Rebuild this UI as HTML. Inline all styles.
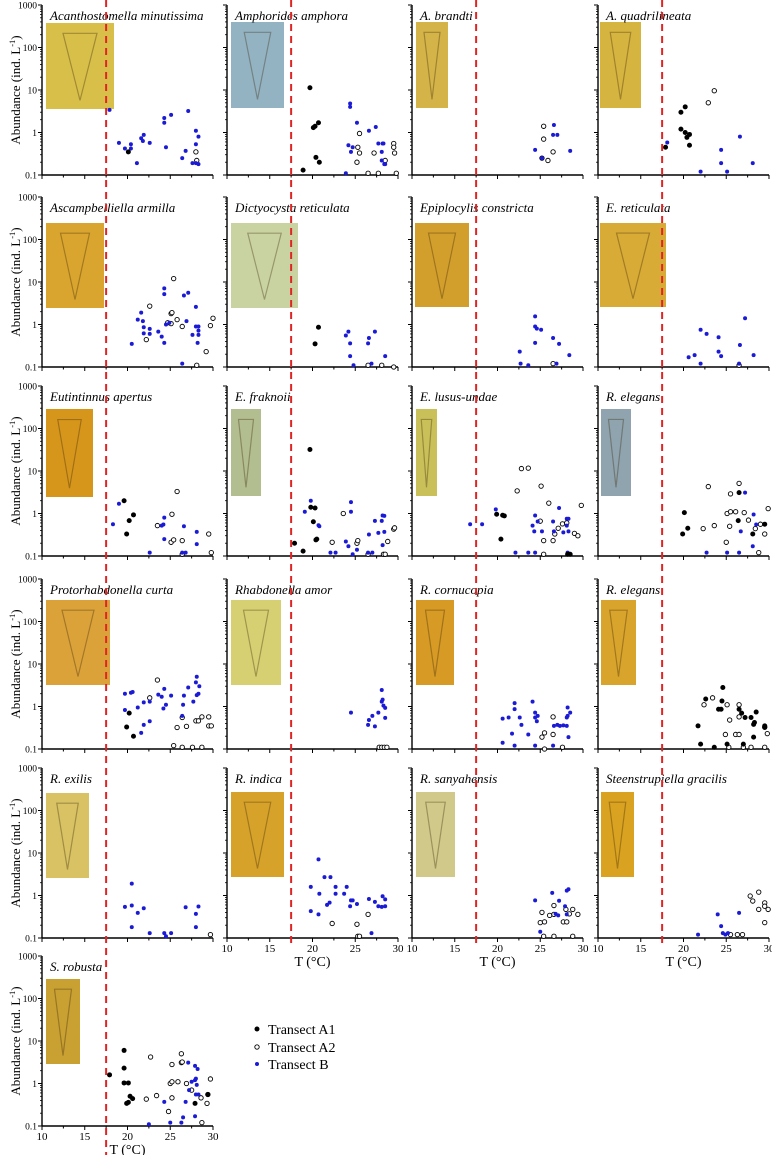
<!DOCTYPE html>
<html><head><meta charset="utf-8">
<style>
html,body{margin:0;padding:0;background:#fff;}
svg{display:block;font-family:"Liberation Serif",serif;}
</style></head>
<body>
<svg id="fig" width="772" height="1155" viewBox="0 0 772 1155" xmlns="http://www.w3.org/2000/svg"></svg>
<script>
// ---- data: [temperature °C, abundance ind. L^-1] per panel & transect ----
const p1A1=[[20.1,0.35]];
const p1A2=[[28.0,0.35],[28.1,0.22]];
const p1B=[[17.9,3.4],[19.0,0.57],[19.7,0.42],[20.4,0.53],[20.4,0.42],[21.1,0.19],[21.6,0.73],[21.9,0.88],[21.8,0.63],[22.6,0.57],[24.3,2.2],[24.3,1.7],[25.1,2.6],[24.5,0.45],[26.4,0.25],[26.8,0.37],[27.1,3.2],[27.6,0.19],[28.0,1.1],[28.0,0.53],[28.3,0.8],[28.0,0.19],[28.3,0.18]];
const p2A1=[[19.7,11.3],[20.1,1.3],[20.3,1.4],[20.7,1.7],[20.4,0.26],[20.8,0.2],[18.9,0.13]];
const p2A2=[[25.5,0.95],[25.3,0.45],[25.5,0.33],[25.2,0.2],[26.5,0.11],[27.2,0.33],[27.7,0.11],[28.5,0.22],[29.5,0.55],[29.5,0.45],[29.6,0.33],[29.8,0.11]];
const p2B=[[23.9,0.11],[24.4,4.8],[24.4,4.0],[24.2,0.5],[24.5,0.35],[24.7,0.45],[25.2,1.7],[26.6,1.1],[27.4,1.35],[27.7,0.55],[28.1,0.35],[28.2,0.55],[28.3,0.55],[28.1,0.22],[28.4,0.18],[28.5,0.18]];
const p3A1=[];
const p3A2=[[25.4,1.4],[25.4,0.7],[25.2,0.25],[25.9,0.22],[26.5,0.35]];
const p3B=[[24.4,0.39],[26.5,0.88],[26.6,1.5],[27.0,0.88],[28.5,0.37],[25.2,0.25]];
const p4A1=[[17.9,0.45],[19.7,3.0],[20.2,4.0],[19.7,1.2],[20.2,1.0],[20.4,0.77],[20.7,0.9],[20.7,0.5]];
const p4A2=[[22.9,5.0],[23.6,9.6]];
const p4B=[[18.1,0.58],[22.0,0.12],[24.4,0.39],[24.4,0.19],[25.1,0.12],[26.6,0.8],[28.1,0.19]];
const p5A1=[];
const p5A2=[[22.2,0.44],[22.6,2.7],[24.7,1.1],[25.1,1.8],[25.2,1.9],[25.4,12],[25.8,1.3],[26.4,0.9],[28.1,0.11],[29.2,0.23],[29.7,0.94],[30.0,1.4],[25.1,1.05]];
const p5B=[[20.5,0.35],[21.2,1.3],[21.6,1.9],[21.8,1.2],[21.9,0.86],[21.9,0.62],[22.6,0.79],[22.6,0.6],[23.6,0.68],[24.0,0.52],[24.3,0.37],[24.3,7.1],[24.3,5.2],[24.5,1.0],[24.9,1.1],[26.4,0.12],[26.6,4.8],[27.1,5.6],[26.9,1.2],[28.0,2.6],[28.0,0.9],[28.3,0.9],[28.3,0.72],[28.3,0.57],[28.2,0.37],[27.6,0.57]];
const p6A1=[[20.3,0.35],[20.7,0.86]];
const p6A2=[[26.5,0.11],[28.1,0.11],[29.5,0.1]];
const p6B=[[23.9,0.55],[24.2,0.68],[24.4,0.36],[24.4,0.18],[24.8,0.11],[26.5,0.36],[26.6,0.48],[27.3,0.68],[26.9,0.12],[28.5,0.18]];
const p7A1=[];
const p7A2=[[26.5,0.12]];
const p7B=[[22.6,0.23],[22.7,0.12],[23.6,0.11],[24.4,1.55],[24.4,0.9],[24.6,0.8],[25.1,0.75],[24.4,0.37],[26.5,0.48],[27.2,0.35],[26.9,0.12],[28.4,0.19]];
const p8A1=[];
const p8A2=[[26.5,0.11]];
const p8B=[[20.6,0.17],[21.3,0.19],[22.0,0.12],[22.0,0.75],[22.7,0.6],[24.1,0.23],[24.1,0.5],[24.4,0.18],[26.5,0.12],[26.6,0.33],[27.2,1.4],[28.2,0.19]];
const p9A1=[[19.6,2.0],[19.9,0.33],[20.2,0.68],[20.7,0.93]];
const p9A2=[[23.5,0.52],[25.1,0.21],[25.4,0.24],[25.2,0.96],[25.8,3.3],[26.4,0.23],[26.4,0.11],[29.5,0.33],[29.8,0.12]];
const p9B=[[18.3,0.56],[19.0,1.7],[22.6,0.12],[24.3,0.8],[24.2,0.55],[24.0,0.52],[24.3,0.25],[26.4,0.12],[26.8,0.12],[26.6,0.5],[28.1,0.19],[28.1,0.37]];
const p10A1=[[17.9,0.2],[18.9,0.13],[19.7,32],[19.8,1.4],[20.3,1.35],[20.1,0.64],[20.4,0.24],[20.5,0.25]];
const p10A2=[[22.3,0.21],[23.6,1.0],[25.2,0.2],[25.3,0.23],[26.5,0.11],[28.3,0.11],[28.5,0.11],[28.8,0.22],[29.5,0.43],[29.6,0.46]];
const p10B=[[19.1,1.1],[19.8,2.0],[20.7,0.53],[20.8,0.5],[22.1,0.12],[22.7,0.12],[23.9,0.22],[24.2,0.17],[24.5,1.85],[24.5,1.1],[24.7,0.11],[25.2,0.14],[26.6,0.32],[26.5,0.12],[27.0,0.12],[27.3,0.67],[27.7,0.35],[28.1,0.67],[28.2,0.9],[28.4,0.88],[28.2,0.18],[28.4,0.37]];
const p11A1=[[19.9,0.96],[20.6,0.91],[20.8,0.88],[20.4,0.25],[28.2,0.11],[28.5,0.11]];
const p11A2=[[22.3,3.4],[22.8,11.4],[23.6,11.7],[25.1,4.4],[25.0,0.66],[25.4,0.11],[25.4,0.23],[26.0,1.75],[26.5,0.23],[26.7,0.33],[27.1,0.45],[27.6,0.57],[29.0,0.34],[29.4,0.3],[29.8,1.55],[28.1,0.6]];
const p11B=[[16.8,0.56],[18.2,0.56],[19.8,1.25],[22.1,0.12],[23.6,0.12],[24.1,0.52],[24.4,0.9],[24.7,0.65],[24.3,0.38],[25.2,0.38],[24.4,0.12],[26.5,0.65],[26.6,0.38],[27.2,1.35],[28.1,0.52],[28.1,0.75],[28.3,0.75],[28.3,0.38],[27.7,0.36],[28.2,0.12]];
const p12A1=[[20.1,1.05],[19.9,0.33],[20.5,0.45],[26.4,0.68],[26.5,3.1],[28.1,0.33],[29.5,0.56]];
const p12A2=[[22.3,0.44],[22.9,4.3],[23.6,0.52],[25.0,0.21],[25.1,1.0],[25.5,2.9],[25.4,0.5],[25.5,1.1],[26.1,1.1],[26.5,5.1],[27.1,1.05],[27.6,0.7],[28.4,0.44],[28.8,0.12],[29.0,0.56],[29.5,0.33],[29.9,1.3]];
const p12B=[[22.7,0.12],[25.1,0.12],[26.5,0.12],[27.2,3.1],[26.7,0.38],[28.2,0.95],[28.5,0.55],[28.1,0.17]];
const p13A1=[[20.2,0.7],[19.9,0.33],[20.7,0.2]];
const p13A2=[[22.6,1.6],[23.5,4.2],[25.4,0.12],[25.8,0.32],[26.4,0.55],[26.4,0.11],[26.9,0.34],[27.6,0.11],[28.0,0.46],[28.3,0.46],[28.7,0.57],[28.7,0.11],[29.5,0.57],[29.5,0.35],[29.8,0.35]];
const p13B=[[19.7,2.0],[19.7,0.83],[20.4,2.1],[20.6,2.2],[21.2,0.95],[21.6,0.24],[21.9,1.25],[21.9,0.37],[22.6,0.45],[22.6,1.3],[23.6,1.9],[24.0,1.7],[24.3,2.6],[24.2,0.9],[24.5,1.1],[25.1,1.8],[26.5,1.1],[26.6,1.8],[27.1,2.8],[27.7,1.3],[28.0,3.7],[28.1,5.0],[28.1,1.85],[28.3,2.0],[28.4,3.0],[26.4,0.6]];
const p14A1=[];
const p14A2=[[27.8,0.11],[28.1,0.11],[28.4,0.11],[28.7,0.11]];
const p14B=[[24.5,0.72],[26.5,0.37],[26.6,0.48],[27.0,0.6],[27.3,0.34],[27.7,0.72],[28.1,2.45],[28.1,1.3],[28.2,1.45],[28.3,1.05],[28.5,0.93],[28.5,0.54]];
const p15A1=[];
const p15A2=[[25.2,0.19],[25.5,0.24],[25.5,0.1],[26.5,0.57],[26.5,0.22],[27.6,0.11]];
const p15B=[[20.6,0.52],[20.6,0.14],[21.3,0.55],[21.7,0.23],[22.0,1.2],[22.0,0.87],[22.0,0.12],[22.6,0.55],[22.8,0.37],[23.6,0.22],[24.1,1.3],[24.4,0.72],[24.4,0.55],[24.6,0.45],[24.7,0.6],[24.4,0.12],[26.5,0.12],[26.6,0.35],[27.0,0.37],[27.3,0.35],[27.7,0.36],[28.1,0.35],[28.1,0.55],[28.2,0.95],[28.5,0.72],[28.3,0.19],[28.2,0.6]];
const p16A1=[[21.7,0.35],[22.0,0.13],[22.6,1.5],[23.6,0.11],[24.1,0.86],[24.4,0.86],[24.5,1.35],[24.6,2.8],[25.1,0.13],[26.5,0.86],[26.8,0.7],[27.0,0.13],[27.2,0.55],[27.9,0.55],[28.2,0.38],[28.3,0.42],[28.5,0.74],[28.2,0.19],[29.5,0.35],[29.5,0.32]];
const p16A2=[[22.4,1.1],[23.4,1.6],[24.9,0.22],[25.1,1.1],[25.4,0.48],[25.3,0.11],[26.1,0.22],[26.5,0.22],[26.5,1.1],[26.5,0.57],[27.0,0.11],[27.9,0.11],[29.5,0.11],[29.8,0.23],[29.5,0.33]];
const p16B=[];
const p17A1=[];
const p17A2=[[29.7,0.12]];
const p17B=[[19.7,0.54],[20.5,1.9],[20.5,0.58],[20.5,0.18],[21.2,0.39],[21.9,0.5],[22.6,0.13],[24.3,0.13],[24.5,0.11],[25.1,0.13],[26.8,0.53],[28.0,0.37],[28.0,0.18],[28.3,0.55]];
const p18A1=[];
const p18A2=[[22.3,0.22],[25.2,0.21],[25.3,0.11],[25.5,0.11],[26.5,0.36]];
const p18B=[[19.8,0.43],[19.8,1.6],[20.7,7.1],[20.7,0.36],[20.8,1.1],[21.4,2.7],[21.7,0.6],[22.0,0.68],[22.1,2.7],[22.7,1.6],[22.7,1.1],[23.7,1.1],[24.0,1.6],[24.4,0.56],[24.5,0.77],[24.7,0.77],[25.2,0.63],[26.6,0.83],[27.3,0.71],[27.7,0.56],[28.1,0.54],[28.2,0.96],[28.5,0.81],[28.5,0.56],[26.9,0.13]];
const p19A1=[];
const p19A2=[[25.0,0.23],[25.2,0.4],[25.5,0.24],[25.4,0.11],[26.1,0.34],[26.6,0.58],[26.6,0.36],[26.6,0.11],[27.7,0.24],[28.1,0.24],[28.0,0.47],[28.4,0.37],[28.8,0.47],[29.4,0.36],[28.8,0.11]];
const p19B=[[24.4,0.77],[25.0,0.14],[26.4,1.15],[27.2,0.75],[27.9,0.56],[28.1,1.3],[28.3,1.4],[28.1,0.36],[26.8,0.37],[27.1,0.34]];
const p20A1=[];
const p20A2=[[25.5,0.12],[26.3,0.12],[26.9,0.12],[27.8,0.97],[28.1,0.74],[28.8,1.2],[28.8,0.47],[29.5,0.67],[29.5,0.56],[29.9,0.47],[29.5,0.23]];
const p20B=[[21.7,0.12],[24.0,0.36],[24.4,0.19],[24.6,0.13],[24.9,0.12],[25.2,0.13],[26.5,0.39]];
const p21A1=[[17.9,1.6],[19.6,6.0],[19.6,2.3],[19.6,1.03],[20.1,1.03],[19.9,0.34],[20.1,0.36],[20.3,0.5],[20.6,0.44],[27.9,0.34],[29.4,0.55]];
const p21A2=[[22.2,0.43],[22.7,4.2],[23.4,0.52],[24.8,0.22],[25.0,1.0],[25.2,1.1],[25.2,2.8],[25.2,0.46],[25.9,1.1],[26.3,5.0],[26.3,3.1],[26.4,3.2],[26.9,1.0],[27.5,0.7],[28.6,0.46],[28.7,0.12],[29.3,0.34],[29.4,0.55],[29.7,1.28]];
const p21B=[[22.5,0.11],[24.3,0.37],[25.0,0.12],[26.3,0.12],[26.5,0.16],[26.8,0.37],[27.1,3.1],[27.2,0.7],[27.5,1.1],[27.9,1.2],[27.9,2.6],[27.9,0.17],[28.0,1.3],[28.1,0.93],[28.2,2.2],[28.0,0.55],[28.3,0.55]];

const seriesA1=[p1A1,p2A1,p3A1,p4A1,p5A1,p6A1,p7A1,p8A1,p9A1,p10A1,p11A1,p12A1,p13A1,p14A1,p15A1,p16A1,p17A1,p18A1,p19A1,p20A1,p21A1];
const seriesA2=[p1A2,p2A2,p3A2,p4A2,p5A2,p6A2,p7A2,p8A2,p9A2,p10A2,p11A2,p12A2,p13A2,p14A2,p15A2,p16A2,p17A2,p18A2,p19A2,p20A2,p21A2];
const seriesB=[p1B,p2B,p3B,p4B,p5B,p6B,p7B,p8B,p9B,p10B,p11B,p12B,p13B,p14B,p15B,p16B,p17B,p18B,p19B,p20B,p21B];
const titles=["Acanthostomella minutissima","Amphorides amphora","A. brandti","A. quadrilineata","Ascampbelliella armilla","Dictyocysta reticulata","Epiplocylis constricta","E. reticulata","Eutintinnus apertus","E. fraknoii","E. lusus-undae","R. elegans","Protorhabdonella curta","Rhabdonella amor","R. cornucopia","R. elegans","R. exilis","R. indica","R. sanyahensis","Steenstrupiella gracilis","S. robusta"];
const yTickValues=[1000,100,10,1,0.1];
const yTickLabels=["1000","100","10","1","0.1"];
const xTickValues=[10,15,20,25,30];
const thresholdT=17.5;

// ---- layout (not data) ----
const X0=[42,227,412,598], PW=171, PH=170;
const BOT=[175,367,556,749,938,1126];
const photos=[[46,23,68,86,"#d8bf4a"],[231,22,53,86,"#93b3c3"],[416,22,32,86,"#d4b448"],[600,22,41,86,"#d6b440"],
[46,223,58,85,"#d9a52e"],[231,223,67,85,"#c9d3a2"],[415,223,54,84,"#d39f2c"],[600,223,66,84,"#d8aa36"],
[46,409,47,88,"#d6961c"],[231,409,30,87,"#b2bd90"],[416,409,21,87,"#c9c05a"],[601,409,30,87,"#8fa4ae"],
[46,600,64,85,"#dba23a"],[231,600,50,85,"#d6d072"],[416,600,38,85,"#d69a25"],[601,600,35,85,"#d9a42c"],
[46,793,43,85,"#d8c264"],[231,792,53,85,"#d6a22a"],[416,792,39,85,"#d0c98a"],[601,792,33,85,"#d9a220"],
[46,979,34,85,"#c9a032"]];
const svg=document.getElementById('fig');
const NS="http://www.w3.org/2000/svg";
function mk(tag,attrs,parent){const e=document.createElementNS(NS,tag);for(const k in attrs)e.setAttribute(k,attrs[k]);(parent||svg).appendChild(e);return e;}
function xs(c,T){return X0[c]+(T-10)/20*PW;}
function ys(r,A){return BOT[r]-(Math.log10(A)+1)/4*PH;}

for(let i=0;i<21;i++){
  const r=Math.floor(i/4), c=i%4;
  const g=mk('g',{});
  
  
  const top=BOT[r]-PH;
  const p=photos[i];
  const ph=mk('rect',{x:p[0],y:p[1],width:p[2],height:p[3],fill:p[4]},g);
  
  
  const sh=mk('path',{d:`M${p[0]+p[2]*0.25} ${p[1]+p[3]*0.12} L${p[0]+p[2]*0.75} ${p[1]+p[3]*0.12} L${p[0]+p[2]*0.5} ${p[1]+p[3]*0.9} Z`,fill:"none",stroke:"rgba(60,40,10,0.35)","stroke-width":1.2},g);
  
  
  const ya=mk('line',{x1:X0[c],y1:top,x2:X0[c],y2:BOT[r],stroke:"#000","stroke-width":1.4},g);
  
  
  const xa=mk('line',{x1:X0[c],y1:BOT[r],x2:X0[c]+PW,y2:BOT[r],stroke:"#000","stroke-width":1.4},g);
  
  
  for(let d=-1;d<3;d++){for(let m=2;m<10;m++){const y=ys(r,m*Math.pow(10,d));mk('line',{x1:X0[c]-2,y1:y,x2:X0[c],y2:y,stroke:"#000","stroke-width":0.8},g);}}
  yTickValues.forEach((v,k)=>{const y=ys(r,v);mk('line',{x1:X0[c]-4,y1:y,x2:X0[c],y2:y,stroke:"#000","stroke-width":1},g);
    if(c===0){const t=mk('text',{x:X0[c]-5,y:y+3.5,"font-size":9.5,"text-anchor":"end"},g);t.textContent=yTickLabels[k];
      
      }});
  for(let T=10;T<=30;T+=2.5){const x=xs(c,T);mk('line',{x1:x,y1:BOT[r],x2:x,y2:BOT[r]+(T%5===0?4:2.5),stroke:"#000","stroke-width":1},g);}
  const labelled=(r===4&&c>0)||(r===5);
  if(labelled){
    xTickValues.forEach(v=>{const t=mk('text',{x:xs(c,v),y:BOT[r]+14,"font-size":11,"text-anchor":"middle"},g);t.textContent=String(v);
      
      });
    const xt=mk('text',{x:X0[c]+PW/2,y:BOT[r]+28,"font-size":14,"text-anchor":"middle"},g);xt.textContent="T (°C)";
    
    
  }
  if(c===0){
    const cy=top+PH/2;
    const yt=mk('text',{x:0,y:0,"font-size":13,"text-anchor":"middle",transform:`translate(20,${cy}) rotate(-90)`},g);
    yt.textContent="Abundance (ind. L";
    const sup=mk('tspan',{"font-size":8.5,dy:-5},yt);sup.textContent="-1";
    const cl=mk('tspan',{dy:5},yt);cl.textContent=")";
    
    
  }
  const tt=mk('text',{x:X0[c]+8,y:top+15,"font-size":13,"font-style":"italic"},g);
  tt.textContent=titles[i];
  
  
  seriesA2[i].forEach(d=>{const e=mk('circle',{cx:xs(c,d[0]),cy:ys(r,d[1]),r:2.2,fill:"#fff",stroke:"#000","stroke-width":0.9},g);
    
    });
  seriesB[i].forEach(d=>{const e=mk('circle',{cx:xs(c,d[0]),cy:ys(r,d[1]),r:2,fill:"#1b1bd6"},g);
    
    });
  seriesA1[i].forEach(d=>{const e=mk('circle',{cx:xs(c,d[0]),cy:ys(r,d[1]),r:2.5,fill:"#000"},g);
    
    });
}
for(let c=0;c<4;c++){
  const x=xs(c,thresholdT);
  const l=mk('line',{x1:x,y1:0,x2:x,y2:(c===0?1155:945),stroke:"#e02424","stroke-width":2,"stroke-dasharray":"7,5"});
  
  
}
const lg=mk('g',{});


const legItems=[["Transect A1",1029,"a1"],["Transect A2",1047,"a2"],["Transect B",1064,"b"]];
legItems.forEach(it=>{
  let m;
  if(it[2]==="a1") m=mk('circle',{cx:257,cy:it[1],r:2.5,fill:"#000"},lg);
  else if(it[2]==="a2") m=mk('circle',{cx:257,cy:it[1],r:2.2,fill:"#fff",stroke:"#000","stroke-width":0.9},lg);
  else m=mk('circle',{cx:257,cy:it[1],r:2,fill:"#1b1bd6"},lg);
  
  
  const t=mk('text',{x:268,y:it[1]+5,"font-size":14},lg);t.textContent=it[0];
  
  
});
</script>
</body></html>
